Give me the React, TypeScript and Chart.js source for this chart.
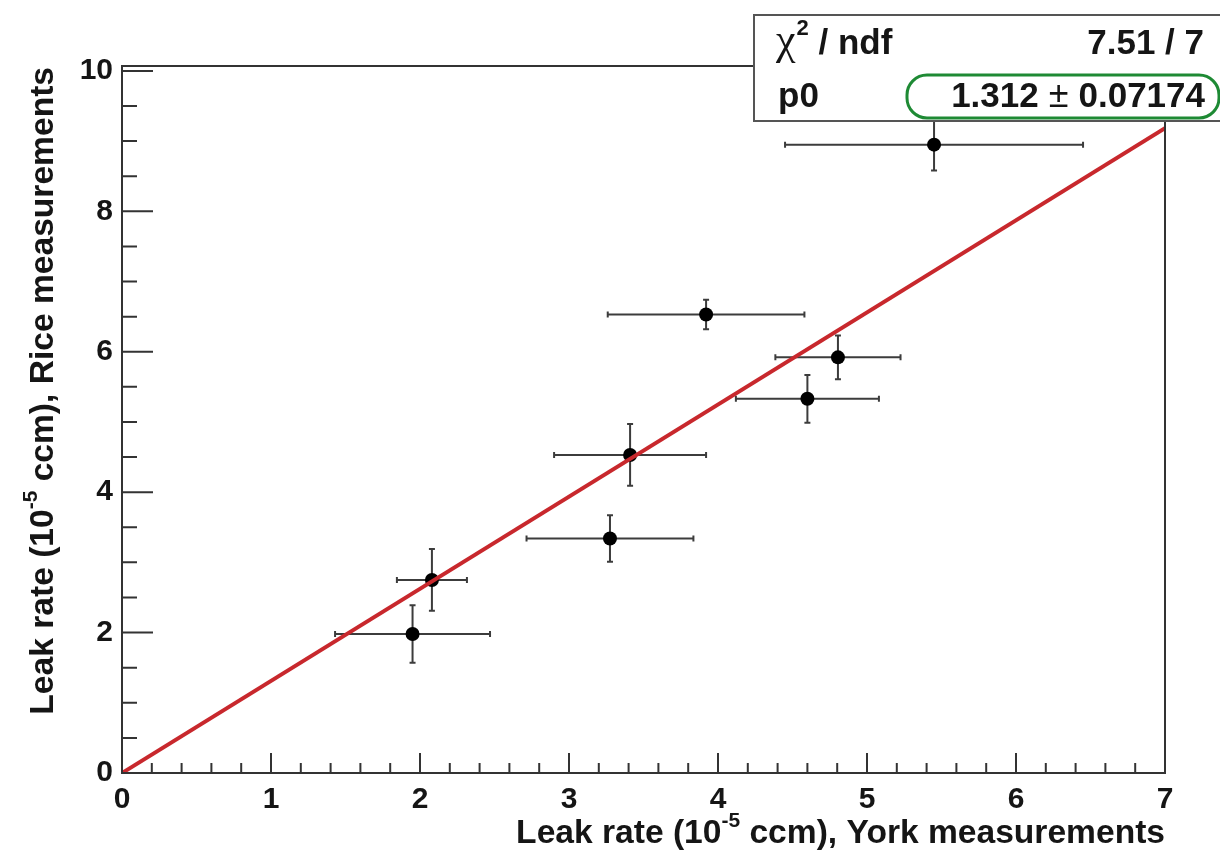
import { useEffect, useRef } from "react";
import { Chart, registerables } from "chart.js";

Chart.register(...registerables);

// ---- data ----
const yorkValues = [1.95, 2.08, 3.41, 3.275, 3.92, 4.805, 4.6, 5.45];
const yorkErrors = [0.52, 0.235, 0.51, 0.56, 0.66, 0.42, 0.48, 1.0];
const riceValues = [1.98, 2.75, 4.53, 3.34, 6.53, 5.92, 5.33, 8.95];
const riceErrors = [0.41, 0.44, 0.44, 0.33, 0.21, 0.31, 0.34, 0.37];
const fitSlope = 1.312;
const fitSlopeError = 0.07174;
const chi2Value = "7.51";
const ndfValue = "7";
const xRange = [0, 7];
const yRange = [0, 10.07];
const xMajorTicks = [0, 1, 2, 3, 4, 5, 6, 7];
const yMajorTicks = [0, 2, 4, 6, 8, 10];
const xMinorStep = 0.2;
const yMinorStep = 0.5;
const xTitleParts = ["Leak rate (10", "-5", " ccm), York measurements"];
const yTitleParts = ["Leak rate (10", "-5", " ccm), Rice measurements"];

const SANS = "'Liberation Sans', Arial, sans-serif";
const SERIF = "'Liberation Serif', 'DejaVu Serif', serif";
const TEXT = "#151515";
const AXIS = "#333333";

type Part = { text: string; font: string; dy?: number };

function drawRich(ctx: CanvasRenderingContext2D, parts: Part[], rightX: number, baseY: number) {
  let total = 0;
  for (const p of parts) {
    ctx.font = p.font;
    total += ctx.measureText(p.text).width;
  }
  let x = rightX - total;
  ctx.textAlign = "left";
  ctx.textBaseline = "alphabetic";
  for (const p of parts) {
    ctx.font = p.font;
    ctx.fillText(p.text, x, baseY + (p.dy || 0));
    x += ctx.measureText(p.text).width;
  }
}

function titleParts(t: string[]): Part[] {
  return [
    { text: t[0], font: `bold 33.6px ${SANS}` },
    { text: t[1], font: `bold 21px ${SANS}`, dy: -16 },
    { text: t[2], font: `bold 33.6px ${SANS}` },
  ];
}

const rootPlugin = {
  id: "rootStyle",
  beforeDatasetsDraw(chart: any) {
    const { ctx, scales } = chart;
    const x = scales.x;
    const y = scales.y;
    ctx.save();
    ctx.strokeStyle = "#3c3c3c";
    ctx.lineWidth = 2;
    const cap = 3;
    yorkValues.forEach((xv, i) => {
      const yv = riceValues[i];
      const px = x.getPixelForValue(xv);
      const py = y.getPixelForValue(yv);
      const x1 = x.getPixelForValue(xv - yorkErrors[i]);
      const x2 = x.getPixelForValue(xv + yorkErrors[i]);
      const y1 = y.getPixelForValue(yv - riceErrors[i]);
      const y2 = y.getPixelForValue(yv + riceErrors[i]);
      ctx.beginPath();
      ctx.moveTo(x1, py);
      ctx.lineTo(x2, py);
      ctx.moveTo(px, y1);
      ctx.lineTo(px, y2);
      ctx.moveTo(x1, py - cap);
      ctx.lineTo(x1, py + cap);
      ctx.moveTo(x2, py - cap);
      ctx.lineTo(x2, py + cap);
      ctx.moveTo(px - cap, y1);
      ctx.lineTo(px + cap, y1);
      ctx.moveTo(px - cap, y2);
      ctx.lineTo(px + cap, y2);
      ctx.stroke();
    });
    ctx.restore();
  },
  afterDraw(chart: any) {
    const { ctx, chartArea, scales } = chart;
    const x = scales.x;
    const y = scales.y;
    const { left, right, top, bottom } = chartArea;
    ctx.save();
    // frame
    ctx.strokeStyle = AXIS;
    ctx.lineWidth = 2;
    ctx.strokeRect(left, top, right - left, bottom - top);
    // x ticks (inward)
    ctx.beginPath();
    const nx = Math.round((xRange[1] - xRange[0]) / xMinorStep);
    for (let i = 0; i <= nx; i++) {
      const v = xRange[0] + i * xMinorStep;
      const px = x.getPixelForValue(v);
      const major = xMajorTicks.some((t) => Math.abs(t - v) < 1e-6);
      ctx.moveTo(px, bottom);
      ctx.lineTo(px, bottom - (major ? 20 : 10));
    }
    // y ticks
    const ny = Math.floor((yRange[1] - yRange[0]) / yMinorStep + 1e-6);
    for (let i = 0; i <= ny; i++) {
      const v = yRange[0] + i * yMinorStep;
      const py = y.getPixelForValue(v);
      const major = yMajorTicks.some((t) => Math.abs(t - v) < 1e-6);
      ctx.moveTo(left, py);
      ctx.lineTo(left + (major ? 31 : 15), py);
    }
    ctx.stroke();

    // axis titles
    ctx.fillStyle = TEXT;
    drawRich(ctx, titleParts(xTitleParts), right, 843);
    ctx.save();
    ctx.translate(53, top + 1);
    ctx.rotate(-Math.PI / 2);
    drawRich(ctx, titleParts(yTitleParts), 0, 0);
    ctx.restore();

    // stat box
    const bx = 754, by = 15, bw = 480, bh = 106;
    ctx.fillStyle = "#ffffff";
    ctx.fillRect(bx, by, bw, bh);
    ctx.strokeStyle = "#555555";
    ctx.lineWidth = 2;
    ctx.strokeRect(bx, by, bw, bh);

    ctx.fillStyle = TEXT;
    ctx.textBaseline = "alphabetic";
    const row1 = 54;
    const row2 = 107;
    ctx.textAlign = "left";
    ctx.font = `44px ${SERIF}`;
    ctx.fillText("\u03c7", 776, row1);
    let cx = 776 + ctx.measureText("\u03c7").width + 1;
    ctx.font = `bold 22px ${SANS}`;
    ctx.fillText("2", cx, row1 - 19);
    cx += ctx.measureText("2").width;
    ctx.font = `bold 35px ${SANS}`;
    ctx.fillText(" / ndf", cx, row1);
    drawRich(ctx, [{ text: `${chi2Value} / ${ndfValue}`, font: `bold 35px ${SANS}` }], 1204, row1);
    ctx.textAlign = "left";
    ctx.font = `bold 35px ${SANS}`;
    ctx.fillText("p0", 778, row2);
    drawRich(
      ctx,
      [
        { text: fitSlope.toFixed(3), font: `bold 35px ${SANS}` },
        { text: " \u00b1 ", font: `36px ${SANS}` },
        { text: String(fitSlopeError), font: `bold 35px ${SANS}` },
      ],
      1205,
      row2
    );
    // green highlight
    ctx.strokeStyle = "#1e8a34";
    ctx.lineWidth = 3;
    const gx = 907, gy = 75, gw = 312, gh = 43, r = 20;
    ctx.beginPath();
    ctx.moveTo(gx + r, gy);
    ctx.lineTo(gx + gw - r, gy);
    ctx.arcTo(gx + gw, gy, gx + gw, gy + r, r);
    ctx.lineTo(gx + gw, gy + gh - r);
    ctx.arcTo(gx + gw, gy + gh, gx + gw - r, gy + gh, r);
    ctx.lineTo(gx + r, gy + gh);
    ctx.arcTo(gx, gy + gh, gx, gy + gh - r, r);
    ctx.lineTo(gx, gy + r);
    ctx.arcTo(gx, gy, gx + r, gy, r);
    ctx.closePath();
    ctx.stroke();
    ctx.restore();
  },
};

export default function App() {
  const canvasRef = useRef<HTMLCanvasElement | null>(null);

  useEffect(() => {
    document.body.style.margin = "0";
    const canvas = canvasRef.current;
    if (!canvas) return;
    const points = yorkValues.map((v, i) => ({ x: v, y: riceValues[i] }));
    const fitLine = [
      { x: xRange[0], y: fitSlope * xRange[0] },
      { x: xRange[1], y: fitSlope * xRange[1] },
    ];
    const chart = new Chart(canvas, {
      type: "scatter",
      data: {
        datasets: [
          {
            label: "fit",
            data: fitLine,
            showLine: true,
            borderColor: "#c8282d",
            borderWidth: 4,
            pointRadius: 0,
            order: 0,
          } as any,
          {
            label: "data",
            data: points,
            pointRadius: 7,
            pointBackgroundColor: "#000000",
            pointBorderWidth: 0,
            borderColor: "#000000",
            order: 1,
          },
        ],
      },
      options: {
        animation: false,
        responsive: true,
        maintainAspectRatio: false,
        layout: { padding: { top: 66, right: 55, left: 0, bottom: 0 } },
        plugins: { legend: { display: false }, tooltip: { enabled: false } },
        events: [],
        scales: {
          x: {
            type: "linear",
            min: xRange[0],
            max: xRange[1],
            grid: { display: false, drawTicks: false },
            border: { display: false },
            afterFit: (s: any) => {
              s.height = 80;
            },
            afterBuildTicks: (s: any) => {
              s.ticks = xMajorTicks.map((v) => ({ value: v }));
            },
            ticks: {
              autoSkip: false,
              maxRotation: 0,
              padding: 9,
              color: TEXT,
              font: { family: SANS, size: 30, weight: "bold" },
            },
          },
          y: {
            type: "linear",
            min: yRange[0],
            max: yRange[1],
            grid: { display: false, drawTicks: false },
            border: { display: false },
            afterFit: (s: any) => {
              s.width = 122;
            },
            afterBuildTicks: (s: any) => {
              s.ticks = yMajorTicks.map((v) => ({ value: v }));
            },
            ticks: {
              autoSkip: false,
              padding: 9,
              color: TEXT,
              font: { family: SANS, size: 30, weight: "bold" },
            },
          },
        },
      } as any,
      plugins: [rootPlugin],
    });
    return () => chart.destroy();
  }, []);

  return (
    <div style={{ position: "relative", width: 1220, height: 853 }}>
      <canvas ref={canvasRef} />
    </div>
  );
}
